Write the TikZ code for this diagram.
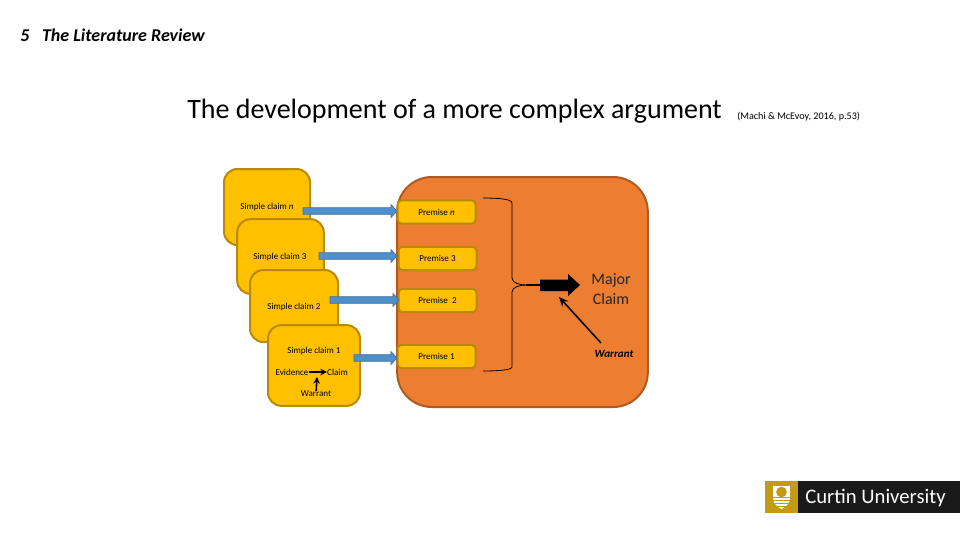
\documentclass[tikz,border=0pt]{standalone}
\usepackage{fontspec}
\setmainfont{Carlito}
\usetikzlibrary{arrows.meta,calc}
\definecolor{yel}{HTML}{FFC000}
\definecolor{yelb}{HTML}{B8890B}
\definecolor{ora}{HTML}{ED7D31}
\definecolor{orab}{HTML}{AE5A21}
\definecolor{blu}{HTML}{4F8FCB}
\definecolor{blub}{HTML}{41719C}
\definecolor{gld}{HTML}{C39A14}
\definecolor{blk}{HTML}{1A1A1A}
\tikzset{
 px/.style={x=0.75pt,y=-0.75pt},
 claimbox/.style={draw=yelb,fill=yel,line width=1.5pt,rounded corners=10pt,inner sep=0pt},
 premise/.style={draw=yelb,fill=yel,line width=1.5pt,rounded corners=3pt,inner sep=0pt,minimum width=58.5pt,minimum height=17.5pt,font=\fontsize{6.8}{8}\selectfont},
 small/.style={font=\fontsize{6.8}{8}\selectfont,inner sep=0pt},
 fat/.style={draw=blub,line width=.5pt,fill=blu},
}
\begin{document}
\begin{tikzpicture}[px]
\useasboundingbox (0,0) rectangle (960,540);
\node[anchor=west,inner sep=0pt,font=\fontsize{13.5}{16}\selectfont\bfseries\itshape] (hdr) at (20,35.5) {5\hspace{9.5pt}The Literature Review};
\node[anchor=west,inner sep=0pt,font=\fontsize{21}{24}\selectfont] (title) at (187,111) {The development of a more complex argument};
\node[anchor=west,inner sep=0pt,font=\fontsize{7.6}{9}\selectfont] (cite) at (737,116.5) {(Machi \& McEvoy, 2016, p.53)};

\node[claimbox,minimum width=64.5pt,minimum height=57pt] (cn) at (267,207) {};
\node[claimbox,minimum width=65pt,minimum height=56pt] (c3) at (280.5,256.5) {};
\node[claimbox,minimum width=66pt,minimum height=54pt] (c2) at (294,306) {};
\node[draw=orab,fill=ora,line width=1.5pt,rounded corners=26pt,minimum width=188pt,minimum height=172.5pt,inner sep=0pt] (big) at (522.5,292) {};
\node[claimbox,minimum width=69pt,minimum height=60.5pt] (c1) at (314,365.5) {};

\node[small] at (267,207.5) {Simple claim \textit{n}};
\node[small] at (280,257.5) {Simple claim 3};
\node[small] at (294,307.5) {Simple claim 2};
\node[small] at (314,351.5) {Simple claim 1};
\node[small] (ev) at (292,372) {Evidence};
\node[small] (cl) at (337.5,372) {Claim};
\node[small] (wa) at (316,394) {Warrant};
\draw[-{Stealth[length=5pt,width=5pt]},line width=1.2pt] (ev) -- (cl);
\coordinate (jn) at (317,377);
\draw[-{Stealth[length=5pt,width=5pt]},line width=1.2pt] (wa) -- (jn);

\node[premise] (pn) at (436.5,212) {Premise \textit{n}};
\node[premise] (p3) at (437.5,258.5) {Premise 3};
\node[premise] (p2) at (437.5,300.5) {Premise\ \ 2};
\node[premise] (p1) at (436.5,356.5) {Premise 1};

\foreach \xa/\xb/\yy in {303/397/211,319/397/256,330/399/300,354/397/358}{
 \draw[fat] (\xa,\yy-3.3) -- (\xb-6,\yy-3.3) -- (\xb-6,\yy-6.5) -- (\xb,\yy) -- (\xb-6,\yy+6.5) -- (\xb-6,\yy+3.3) -- (\xa,\yy+3.3) -- cycle;
}

\coordinate (bt) at (483,198);
\coordinate (bb) at (483,371);
\coordinate (bm) at (541,285);
\coordinate (bj) at (526,285);
\draw[line width=.6pt] (bt) .. controls (498,198) and (512,199) .. (512,203) -- (512,278)
  .. controls (512,283) and (520,285) .. (bj);
\draw[line width=.6pt] (bb) .. controls (498,371) and (512,370) .. (512,367) -- (512,292)
  .. controls (512,287) and (520,285) .. (bj);
\draw[line width=1pt] (bj) -- (bm);
\fill (540,279.5) -- (568,279.5) -- (568,274) -- (580,285) -- (568,296) -- (568,291) -- (540,291) -- cycle;

\node[inner sep=0pt,align=center,font=\fontsize{12}{15.5}\selectfont,text=black!85] (mj) at (611,289) {Major\\Claim};
\node[inner sep=0pt,font=\fontsize{8.3}{10}\selectfont\bfseries\itshape] (w2) at (614,353.5) {Warrant};
\coordinate (wt) at (559,297);
\draw[-{Stealth[length=7pt,width=6pt]},line width=1.2pt] (601,343) -- (wt);

% logo
\fill[gld] (765,481) rectangle (798,513);
\fill[blk] (798,481) rectangle (960,513);
\fill[white] (773,486) -- (790,486) -- (790,498) .. controls (790,504) and (785,507) .. (781.5,509) .. controls (778,507) and (773,504) .. (773,498) -- cycle;
\fill[gld] (781.5,492) circle (4pt);
\foreach \yy in {497,500,503,506}{\draw[gld,line width=.6pt] (772,\yy) -- (791,\yy);}
\node[anchor=west,inner sep=0pt,text=white,font=\fontsize{15.5}{18}\selectfont] (cu) at (805,498.5) {Curtin University};
\end{tikzpicture}
\end{document}
